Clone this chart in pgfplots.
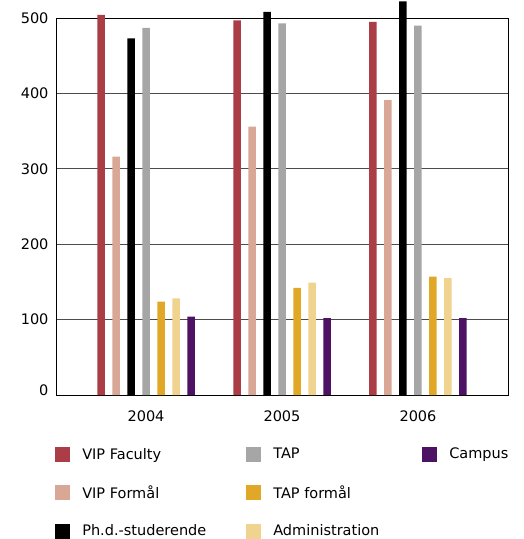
\documentclass[border=0pt]{standalone}
\usepackage{pgfplots}
\pgfplotsset{compat=1.18}
\usepackage{fontspec}
\setmainfont{DejaVu Sans}
\definecolor{cVF}{HTML}{AB3D46}
\definecolor{cVFo}{HTML}{D8A796}
\definecolor{cPhd}{HTML}{000000}
\definecolor{cTAP}{HTML}{A6A6A6}
\definecolor{cTAPf}{HTML}{E0A826}
\definecolor{cAdm}{HTML}{F0D38F}
\definecolor{cCam}{HTML}{4D1264}
\begin{document}
\begin{tikzpicture}[font=\fontsize{14.5pt}{17pt}\selectfont]
\begin{axis}[
  at={(56pt,144pt)}, anchor=south west,
  scale only axis, width=452pt, height=377pt,
  ymin=0, ymax=500, xmin=-0.662, xmax=2.662,
  xtick={0,1,2}, xticklabels={2004,2005,2006},
  ytick={0,100,200,300,400,500},
  yticklabels={\raisebox{9pt}{0},100,200,300,400,500},
  ymajorgrids, grid style={black!70, line width=0.8pt},
  major tick length=0pt,
  ybar, bar width=7.5pt,
  clip=false,
  axis line style={black, line width=0.8pt},
  /pgf/number format/assume math mode=true,
  yticklabel style={xshift=-4pt},
  xticklabel style={yshift=-12pt},
  legend image code/.code={\fill[#1] (0pt,-7.5pt) rectangle (15pt,7.5pt);},
  legend style={draw=none, fill=none, at={(-0.002,-0.135)}, anchor=north west,
    inner sep=0pt, column sep=10pt, row sep=21pt,
    cells={anchor=west, inner sep=0pt}},
  legend columns=3,
]
\addplot[fill=cVF, draw=none, bar shift=-45pt, forget plot] coordinates {(0,504) (1,497) (2,495)};
\addplot[fill=cVFo, draw=none, bar shift=-30pt, forget plot] coordinates {(0,316) (1,356) (2,391)};
\addplot[fill=cPhd, draw=none, bar shift=-15pt, forget plot] coordinates {(0,473) (1,508) (2,522)};
\addplot[fill=cTAP, draw=none, bar shift=0pt, forget plot] coordinates {(0,487) (1,493) (2,490)};
\addplot[fill=cTAPf, draw=none, bar shift=15pt, forget plot] coordinates {(0,124) (1,142) (2,157)};
\addplot[fill=cAdm, draw=none, bar shift=30pt, forget plot] coordinates {(0,128) (1,149) (2,155)};
\addplot[fill=cCam, draw=none, bar shift=45pt, forget plot] coordinates {(0,104) (1,102) (2,102)};
\addlegendimage{fill=cVF, draw=none}
\addlegendentry{\makebox[152pt][l]{VIP Faculty}}
\addlegendimage{fill=cTAP, draw=none}
\addlegendentry{\makebox[137pt][l]{TAP}}
\addlegendimage{fill=cCam, draw=none}
\addlegendentry{Campus}
\addlegendimage{fill=cVFo, draw=none}
\addlegendentry{\makebox[152pt][l]{VIP Formål}}
\addlegendimage{fill=cTAPf, draw=none}
\addlegendentry{\makebox[137pt][l]{TAP formål}}
\addlegendimage{legend image code/.code={}}
\addlegendentry{}
\addlegendimage{fill=cPhd, draw=none}
\addlegendentry{\makebox[152pt][l]{Ph.d.-studerende}}
\addlegendimage{fill=cAdm, draw=none}
\addlegendentry{\makebox[137pt][l]{Administration}}
\end{axis}
\pgfresetboundingbox
\useasboundingbox (0,0) rectangle (523pt,539pt);
\end{tikzpicture}
\end{document}
